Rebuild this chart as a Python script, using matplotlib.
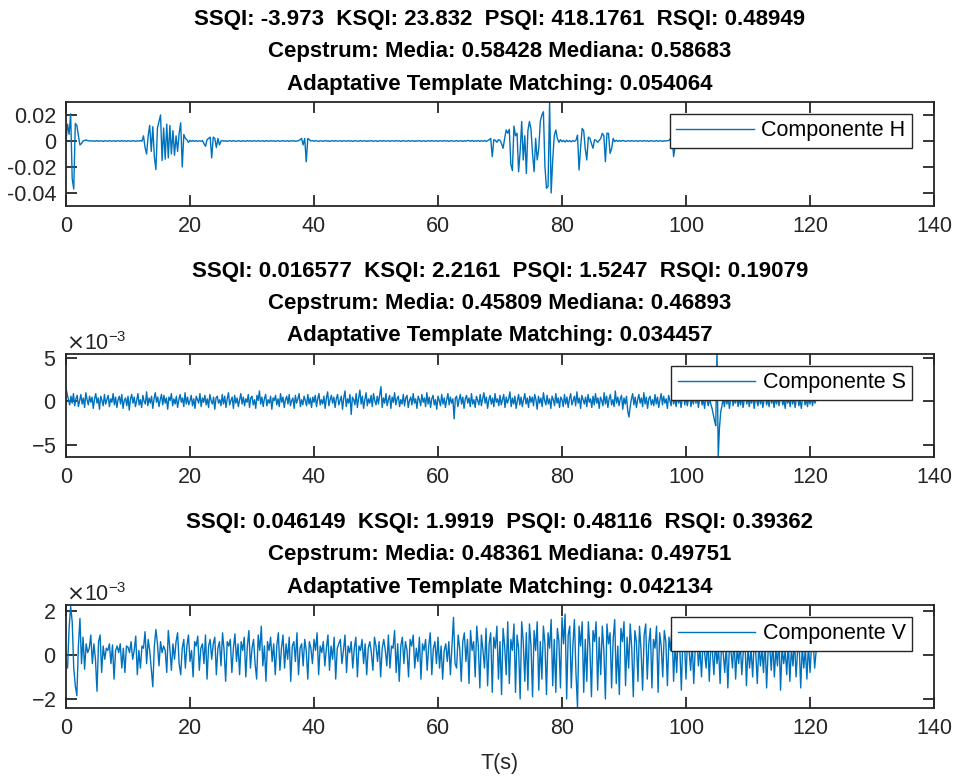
import numpy as np
import matplotlib
matplotlib.use("Agg")
import matplotlib.pyplot as plt
from matplotlib.ticker import ScalarFormatter, FuncFormatter

plt.rcParams['font.family'] = ['Liberation Sans', 'DejaVu Sans']
plt.rcParams['axes.unicode_minus'] = False

# --- indices de calidad por componente ---
componentes = ["H", "S", "V"]
ssqi = ["-3.973", "0.016577", "0.046149"]
ksqi = ["23.832", "2.2161", "1.9919"]
psqi = ["418.1761", "1.5247", "0.48116"]
rsqi = ["0.48949", "0.19079", "0.39362"]
cep_media = ["0.58428", "0.45809", "0.48361"]
cep_mediana = ["0.58683", "0.46893", "0.49751"]
atm = ["0.054064", "0.034457", "0.042134"]

# --- senales (H en 1e-4, dt 0.25 s; S en 1e-4, dt 0.2 s; V en 1e-5, dt 0.25 s) ---
dt_h = 0.25
sig_h = [
    0, 130, 50, 210, -290, -370, 135, 120, 40, -30, -20, 0, 5, 8, 3, 0, 2, -1, 2, -2,
    3, -2, 2, 0, -3, 2, 1, -2, 3, -1, 0, 2, -3, 2, 1, -2, 3, -1, 2, -3,
    2, 0, -2, 3, 1, -3, 2, -1, 3, -2, 40, -50, -100, 40, 120, -80, 110, -120, -220, 100,
    150, 200, -150, 100, -140, 130, -130, 120, -100, 80, -110, 40, -80, 60, 140, -200, 50, 20, 10, -10,
    5, -3, 4, -3, 3, -3, 2, -2, 3, -20, -40, 10, 20, 30, -130, 30, 20, -50, 20, -30,
    0, 3, -2, 2, -3, 1, 2, -2, 3, -1, -2, 2, 1, -3, 2, 0, -2, 3, -1, 2,
    -3, 2, 1, -2, 3, -1, 0, 2, -3, 2, 1, -2, 3, -1, 2, -3, 1, 2, -2, 0,
    3, -2, 1, 2, -3, 2, -1, 3, -2, 0, 2, 10, 20, -30, 20, -160, 20, 10, 0, 3,
    -2, 2, 1, -3, 2, 0, -2, 3, -1, 2, -3, 1, 2, -2, 3, -1, 0, 2, -3, 2,
    1, -2, 3, -1, 2, -3, 1, 2, -2, 0, 3, -2, 1, 2, -3, 2, -1, 3, -2, 0,
    2, -3, 1, 2, -2, 3, -1, 0, 2, -3, 2, 1, -2, 3, -1, 2, -3, 1, 2, -2,
    0, 3, -2, 1, 2, -3, 2, -1, 3, -2, 0, 2, -3, 1, 2, -2, 3, -1, 0, 2,
    -3, 2, 1, -2, 3, -1, 2, -3, 1, 2, -2, 0, 3, -2, 1, 2, -3, 2, -1, 3,
    3, -2, 4, -3, 2, -2, 4, -3, 3, -2, 4, -3, 2, 10, 20, -120, 10, 5, -10, 10,
    5, -20, -56, 20, 85, 60, 90, -180, -228, 115, 40, 60, -236, -80, 150, -146, 40, -250, 80, 150,
    90, -100, -236, 20, -146, -60, 150, 200, 225, -200, -364, -350, 300, -400, -146, 40, 85, 20, -10, 10,
    -5, 5, -8, 6, -5, 3, -6, 4, -3, 5, 46, -223, -50, 97, 80, -60, -146, 30, 20, -20,
    -56, 10, 5, -10, 5, 20, 59, 40, -159, 60, 59, -95, -60, 20, -5, 5, -3, 4, -3, 3,
    2, -3, 1, 2, -2, 3, -1, 0, 2, -3, 2, 1, -2, 3, -1, 2, -3, 1, 2, -2,
    0, 3, -2, 1, 2, -3, 2, -1, 3, 3, 20, 46, -120, -40,
]

dt_s = 0.2
sig_s = [
    15, 8, 2, -4, 6, -2, 9, -5, 3, 7, -6, 1, 8, -3, 4, -7, 10, 2, -4, 6, -1, 5, -8, 3, 9,
    -2, 4, -9, 6, 1, -5, 8, -3, 2, 7, -6, 3, -1, 9, -4, 5, -7, 2, 6, -3, 8, -8, 1, 4, -5,
    6, -10, 3, 8, -2, 5, -6, 1, 9, -4, 2, -7, 7, 0, -3, 11, -5, 4, -2, 6, -8, 3, 10, -1, 5,
    -6, 2, 8, -4, 7, -2, 4, -9, 5, 1, 9, -5, 3, -3, 6, -7, 2, 8, -1, 4, -6, 10, -3, 5, -4,
    1, 7, -5, 3, -8, 6, 2, -2, 9, -6, 4, -1, 7, -4, 3, -7, 8, 1, -3, 5, -9, 4, 6, -2, 2,
    -5, 8, -3, 6, -7, 3, 10, -4, 1, 5, -8, 7, -2, 4, -6, 2, 9, -3, 5, -5, 3, -1, 8, -7, 4,
    6, -4, 2, -8, 7, 1, 12, -3, 5, -6, 3, 8, -5, 2, -2, 6, -9, 4, 1, 7, -4, 3, -6, 9, -1,
    5, -7, 2, 6, -3, 8, -5, 1, 4, -8, 7, -2, 3, 9, -6, 2, -4, 6, 1, -5, 8, -3, 4, -7, 5,
    -1, 7, -6, 3, 9, -4, 2, -3, 6, -8, 4, 11, -5, 2, 7, -2, 5, -7, 3, 8, -4, 1, 6, -9, 4,
    12, -6, 3, -2, 8, -15, 5, 2, -4, 9, -7, 4, 13, -3, 6, -8, 2, 10, -5, 3, -2, 7, -6, 9, 1,
    -4, 6, -3, 8, 17, -7, 4, -2, 9, -5, 2, 7, -8, 5, -1, 10, -4, 3, 6, -6, 2, -3, 8, -5, 4,
    7, -7, 1, 5, -4, 9, -2, 3, -8, 6, 2, -5, 8, -1, 4, -6, 10, -3, 5, -7, 3, 7, -4, 2, -9,
    6, 1, -5, 8, -3, 4, -7, 2, 9, -4, 5, -2, 3, -20, 4, 6, -6, 2, 8, -3, 5, -8, 3, 7, -2,
    4, -6, 9, -3, 2, -7, 6, 1, -4, 8, -5, 3, 10, -2, 5, -8, 2, 7, -3, 4, -6, 9, -1, 3, -5,
    7, -4, 2, 8, -7, 5, -2, 3, 11, -6, 4, -3, 6, -8, 1, 8, -4, 5, -6, 2, 9, -3, 4, -7, 6,
    -1, 5, -5, 8, 2, -9, 6, -2, 4, -6, 10, 1, -4, 7, -3, 3, -8, 6, 2, -5, 9, -2, 4, -7, 5,
    2, -6, 8, -3, 5, -7, 3, 9, -4, 1, 6, -5, 11, -2, 4, -8, 7, 2, -3, 5, -6, 8, -1, 3, -7,
    6, -4, 9, -2, 4, -8, 5, 1, -5, 10, -3, 6, -7, 3, 8, -4, 2, -6, 12, -2, 5, -5, 3, 7, -9,
    4, -3, 6, -11, -18, -6, 3, 9, -4, 5, -7, 2, 8, -2, 4, -6, 10, -3, 5, -8, 3, 6, -4, 2, -5,
    8, -3, 5, -7, 2, 9, -4, 6, -2, 3, -8, 7, 1, -5, 10, -3, 4, -6, 8, -2, 5, -7, 3, 11, -4,
    6, -5, 2, 8, -6, 4, -3, 9, -2, 5, -7, 3, 7, -4, 2, -8, 6, 1, -5, 4, -3, -8, -15, -22, -28,
    60, -64, -30, -12, -5, 4, -6, 7, -3, 5, -8, 2, 6, -5, 3, -2, 8, -6, 4, -4, 7, -7, 2, 5, -3,
    6, -6, 3, -2, 8, -8, 4, 1, -5, 7, -3, 5, -7, 2, 6, -4, 3, -6, 9, -2, 4, -7, 5, -3, 6,
    -5, 3, 7, -4, 2, -8, 6, -2, 4, -6, 8, -3, 5, -7, 3, 6, -5, 2, -8, 4, 7, -4, 3, -6, 5,
    -3, 6, -5, 4, -2, 3,
]

dt_v = 0.25
sig_v = [
    -30, -60, 120, 220, 150, -60, -140, -185, 40, 165, -40, 80, -65, 50, 10, 30, 90, -40, 50, -20,
    -165, 60, 90, -80, 40, -20, 30, 20, 50, -40, 45, -110, 20, 40, 10, 50, -60, 30, -80, 40,
    35, 10, 60, -20, 20, 85, -90, 20, -60, 40, 30, 105, -40, 70, 20, -60, -145, 40, 115, 50,
    -50, 60, 10, 40, 20, -80, 110, 30, -70, 50, -20, 60, 100, -40, -90, 30, 70, -60, 40, 90,
    -30, 20, -100, 60, 40, 85, -70, 30, 50, -40, 90, -110, 40, 70, -20, 50, 80, -90, 30, 60,
    -50, 100, 20, -120, 60, 40, 70, -80, 30, 95, -30, 50, -90, 60, 20, 80, -100, 40, 110, -60,
    30, 70, -40, -110, 90, 20, 130, -50, 40, -120, 60, 20, 80, -30, 50, -90, 40, 100, -70, 30,
    90, -60, 50, -20, 80, -120, 40, 60, -30, 100, -90, 30, 50, -50, 70, 20, -110, 60, 30, -40,
    70, 20, 100, -90, 40, 10, 60, -50, 30, 90, -70, 40, -20, 80, -110, 30, 50, 70, -40, 20,
    90, -80, 40, 10, 60, -60, 30, 80, -100, 40, 20, 70, -40, 50, -90, 30, 60, 10, -70, 80,
    40, -30, 60, -100, 30, 70, 20, -50, 90, -60, 40, 30, 110, -80, 50, -120, 40, 80, -40, 60,
    20, -100, 70, 40, 90, -60, 30, -30, 80, -110, 50, 20, 70, -70, 40, 100, -90, 30, 60, -40,
    80, -60, 40, -110, 20, 50, -30, 60, -90, 40, 170, -40, -60, 90, 30, -120, 60, 100, -30, 70,
    -130, 110, 20, 60, -100, 130, 40, -150, 90, 20, -60, 120, -140, 50, 100, -170, 80, 30, 130, -110,
    60, -180, 120, 40, -90, 150, -130, 70, 20, 140, -170, 90, 30, -200, 150, 60, -120, 100, -160, 140,
    40, -190, 110, 20, 150, -160, 60, -110, 130, 50, -180, 100, 30, 160, -140, 70, -170, 120, 60, -150,
    170, 50, 185, -200, 90, 130, -150, 40, 160, -80, -240, 130, 40, 150, -170, 70, -120, 150, 30, -190,
    110, 60, 150, -160, 80, -90, 130, 20, -200, 140, 50, 100, -150, 70, 160, -130, 40, -180, 120, 60,
    150, -140, 80, -60, 140, 30, -190, 110, 60, -120, 130, 20, -160, 90, 140, -110, 50, 120, -150, 70,
    30, 130, -170, 100, 40, -100, 110, 60, -140, 80, 20, 120, -120, 50, -80, 100, 30, -160, 90, 60,
    -110, 80, 20, -70, 60, -130, 40, 90, -50, 30, -100, 70, 10, -60, 80, -120, 40, 20, -90, 60,
    -40, 30, -130, 70, 10, -80, 50, -150, 40, 20, -60, 80, -110, 30, -40, 60, -90, 20, 70, -140,
    40, -60, 30, -100, 60, 10, -130, 50, -50, 30, -80, 70, -150, 20, 40, -70, 60, -100, 30, -50,
    80, -160, 40, -40, 20, -90, 60, -120, 30, -50, 70, -100, 20, 50, -150, 40, -60, 30, -110, 50,
    -80, 40, 70, -60, 20,
]

t_h = np.arange(len(sig_h)) * dt_h
t_s = np.arange(len(sig_s)) * dt_s
t_v = np.arange(len(sig_v)) * dt_v
h = np.array(sig_h) * 1e-4
s = np.array(sig_s) * 1e-4
v = np.array(sig_v) * 1e-5

senales = [(t_h, h), (t_s, s), (t_v, v)]
ylims = [(-0.05, 0.03), (-6.4e-3, 5.46e-3), (-2.41e-3, 2.26e-3)]
yticks = [[-0.04, -0.02, 0, 0.02], [-5e-3, 0, 5e-3], [-2e-3, 0, 2e-3]]

azul = '#0072BD'
gris = '#262626'
fs = 15.5
fs_tit = 16

fig = plt.figure(figsize=(9.56, 7.78), dpi=100)
# [left, bottom, width, height] de cada subplot
posiciones = [
    [66 / 956, 1 - 206 / 778, 868 / 956, 104 / 778],
    [66 / 956, 1 - 457 / 778, 868 / 956, 103 / 778],
    [66 / 956, 1 - 708 / 778, 868 / 956, 103 / 778],
]

for k in range(3):
    ax = fig.add_axes(posiciones[k])
    t, y = senales[k]
    ax.plot(t, y, color=azul, lw=1.0, label='Componente ' + componentes[k])
    ax.set_xlim(0, 140)
    ax.set_ylim(*ylims[k])
    ax.set_xticks(np.arange(0, 141, 20))
    ax.set_yticks(yticks[k])
    if k == 0:
        ax.yaxis.set_major_formatter(FuncFormatter(lambda val, pos: '%g' % val))
    else:
        fmt = ScalarFormatter(useMathText=True)
        fmt.set_powerlimits((0, 0))
        ax.yaxis.set_major_formatter(fmt)
        ax.yaxis.get_offset_text().set_fontsize(fs)
        ax.yaxis.get_offset_text().set_color(gris)
    ax.tick_params(direction='in', length=8, width=1.3, labelsize=fs, colors=gris,
                   top=True, right=True, pad=7)
    for sp in ax.spines.values():
        sp.set_linewidth(1.3)
        sp.set_color(gris)

    titulo = ("SSQI: %s  KSQI: %s  PSQI: %s  RSQI: %s\n"
              "Cepstrum: Media: %s Mediana: %s\n"
              "Adaptative Template Matching: %s") % (
        ssqi[k], ksqi[k], psqi[k], rsqi[k], cep_media[k], cep_mediana[k], atm[k])
    ax.set_title(titulo, fontsize=fs_tit, fontweight='bold', linespacing=1.7, pad=9)

    leg = ax.legend(loc='upper right', bbox_to_anchor=(0.9747, 0.886), borderaxespad=0,
                    fontsize=fs, handlelength=3.6, handletextpad=0.35, borderpad=0.3,
                    fancybox=False, framealpha=1, edgecolor=gris)
    leg.get_frame().set_linewidth(1.0)

    if k == 2:
        ax.set_xlabel('T(s)', fontsize=fs, color=gris, labelpad=10)

fig.savefig('out.png', dpi=100)
